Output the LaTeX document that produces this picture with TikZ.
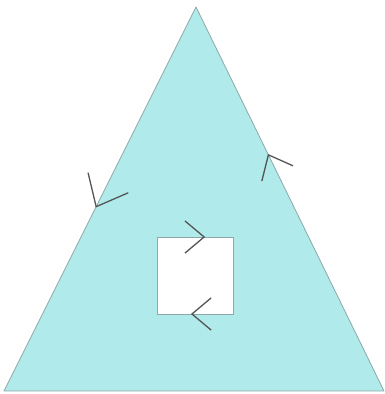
\documentclass[tikz,border=0pt]{standalone}
\usetikzlibrary{calc}
\definecolor{regionfill}{RGB}{176,234,234}
\definecolor{edgegray}{RGB}{140,168,168}
\definecolor{tipgray}{RGB}{85,85,85}

\begin{document}
\begin{tikzpicture}[x=1pt,y=1pt]
  \tikzstyle{region}=[fill=regionfill,draw=edgegray,line width=0.8pt,line join=round]
  \tikzstyle{hole}=[fill=white,draw=edgegray,line width=0.8pt]
  \tikzset{flow/.pic={\draw[tipgray,line width=1.3pt] (140:#1pt) -- (0,0) -- (220:#1pt);}}
  \useasboundingbox (0,0) rectangle (385,394);
  % outer triangle
  \coordinate (apex) at (196,387);
  \coordinate (botleft) at (4,3);
  \coordinate (botright) at (384,3);
  \draw[region] (apex) -- (botleft) -- (botright) -- cycle;
  % inner square hole
  \coordinate (sqsw) at (157,80);
  \coordinate (sqne) at (233,157);
  \coordinate (sqnw) at (157,157);
  \coordinate (sqse) at (233,80);
  \draw[hole] (sqsw) rectangle (sqne);
  % orientation marks
  \pic[rotate=243.4] at ($(apex)!0.52!(botleft)$) {flow=35};
  \pic[rotate=116] at ($(botright)!0.615!(apex)$) {flow=27};
  \pic[rotate=0] at ($(sqnw)!0.62!(sqne)$) {flow=25};
  \pic[rotate=180] at ($(sqsw)!0.46!(sqse)$) {flow=25};
\end{tikzpicture}
\end{document}
